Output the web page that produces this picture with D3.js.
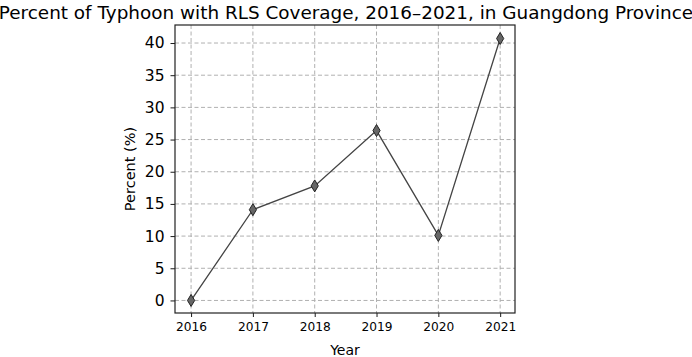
<!DOCTYPE html>
<html>
<head>
<meta charset="utf-8">
<script src="https://cdn.jsdelivr.net/npm/d3@7"></script>
<style>
  body { margin: 0; background: #fff; }
  svg text { font-family: "DejaVu Sans", sans-serif; fill: #000; }
</style>
</head>
<body>
<div id="chart-area"></div>
<script>
const years = [2016, 2017, 2018, 2019, 2020, 2021]
const percents = [0, 14.1, 17.8, 26.4, 10.1, 40.7]
const yTicks = [0, 5, 10, 15, 20, 25, 30, 35, 40]

const MARGIN = { LEFT: 175, RIGHT: 177, TOP: 25, BOTTOM: 44 }
const WIDTH = 692 - MARGIN.LEFT - MARGIN.RIGHT
const HEIGHT = 357 - MARGIN.TOP - MARGIN.BOTTOM

const svg = d3.select('#chart-area').append('svg')
  .attr('width', 692)
  .attr('height', 357)

const g = svg.append('g')
  .attr('transform', `translate(${MARGIN.LEFT}, ${MARGIN.TOP})`)

const x = d3.scaleLinear()
  .domain([2016 - 0.26, 2021 + 0.24])
  .range([0, WIDTH])

const y = d3.scaleLinear()
  .domain([-1.95, 42.8])
  .range([HEIGHT, 0])

// grid
g.selectAll('.vgrid').data(years).enter().append('line')
  .attr('x1', d => x(d)).attr('x2', d => x(d))
  .attr('y1', 0).attr('y2', HEIGHT)
  .attr('stroke', '#b0b0b0').attr('stroke-width', 1)
  .attr('stroke-dasharray', '4,2.5')

g.selectAll('.hgrid').data(yTicks).enter().append('line')
  .attr('x1', 0).attr('x2', WIDTH)
  .attr('y1', d => y(d)).attr('y2', d => y(d))
  .attr('stroke', '#b0b0b0').attr('stroke-width', 1)
  .attr('stroke-dasharray', '4,2.5')

// axes
const xAxisCall = d3.axisBottom(x)
  .tickValues(years)
  .tickFormat(d3.format('d'))
  .tickSize(4).tickPadding(5)
const xAx = g.append('g')
  .attr('transform', `translate(0, ${HEIGHT})`)
  .call(xAxisCall)
xAx.selectAll('text').attr('font-size', '12.2px')

const yAxisCall = d3.axisLeft(y)
  .tickValues(yTicks)
  .tickSize(4.5).tickPadding(6)
const yAx = g.append('g').call(yAxisCall)
yAx.selectAll('text').attr('font-size', '15.5px')

g.selectAll('.domain').remove()
g.selectAll('.tick line').attr('stroke', '#000').attr('stroke-width', 0.9)

// frame
g.append('rect')
  .attr('width', WIDTH).attr('height', HEIGHT)
  .attr('fill', 'none').attr('stroke', '#222').attr('stroke-width', 1.2)

// line
const line = d3.line()
  .x((d, i) => x(years[i]))
  .y(d => y(d))
g.append('path')
  .datum(percents)
  .attr('d', line)
  .attr('fill', 'none')
  .attr('stroke', '#444')
  .attr('stroke-width', 1.3)

// thin diamond markers
g.selectAll('.marker').data(percents).enter().append('path')
  .attr('transform', (d, i) => `translate(${x(years[i])}, ${y(d)})`)
  .attr('d', 'M0,-6L3.6,0L0,6L-3.6,0Z')
  .attr('fill', '#666')
  .attr('stroke', '#222')
  .attr('stroke-width', 1)

// labels
svg.append('text')
  .attr('x', 346).attr('y', 19)
  .attr('text-anchor', 'middle')
  .attr('font-size', '18.4px')
  .text('Percent of Typhoon with RLS Coverage, 2016–2021, in Guangdong Province')

g.append('text')
  .attr('x', WIDTH / 2).attr('y', HEIGHT + 42)
  .attr('text-anchor', 'middle')
  .attr('font-size', '14px')
  .text('Year')

g.append('text')
  .attr('transform', 'rotate(-90)')
  .attr('x', -HEIGHT / 2).attr('y', -40)
  .attr('text-anchor', 'middle')
  .attr('font-size', '14.5px')
  .text('Percent (%)')
</script>
</body>
</html>
